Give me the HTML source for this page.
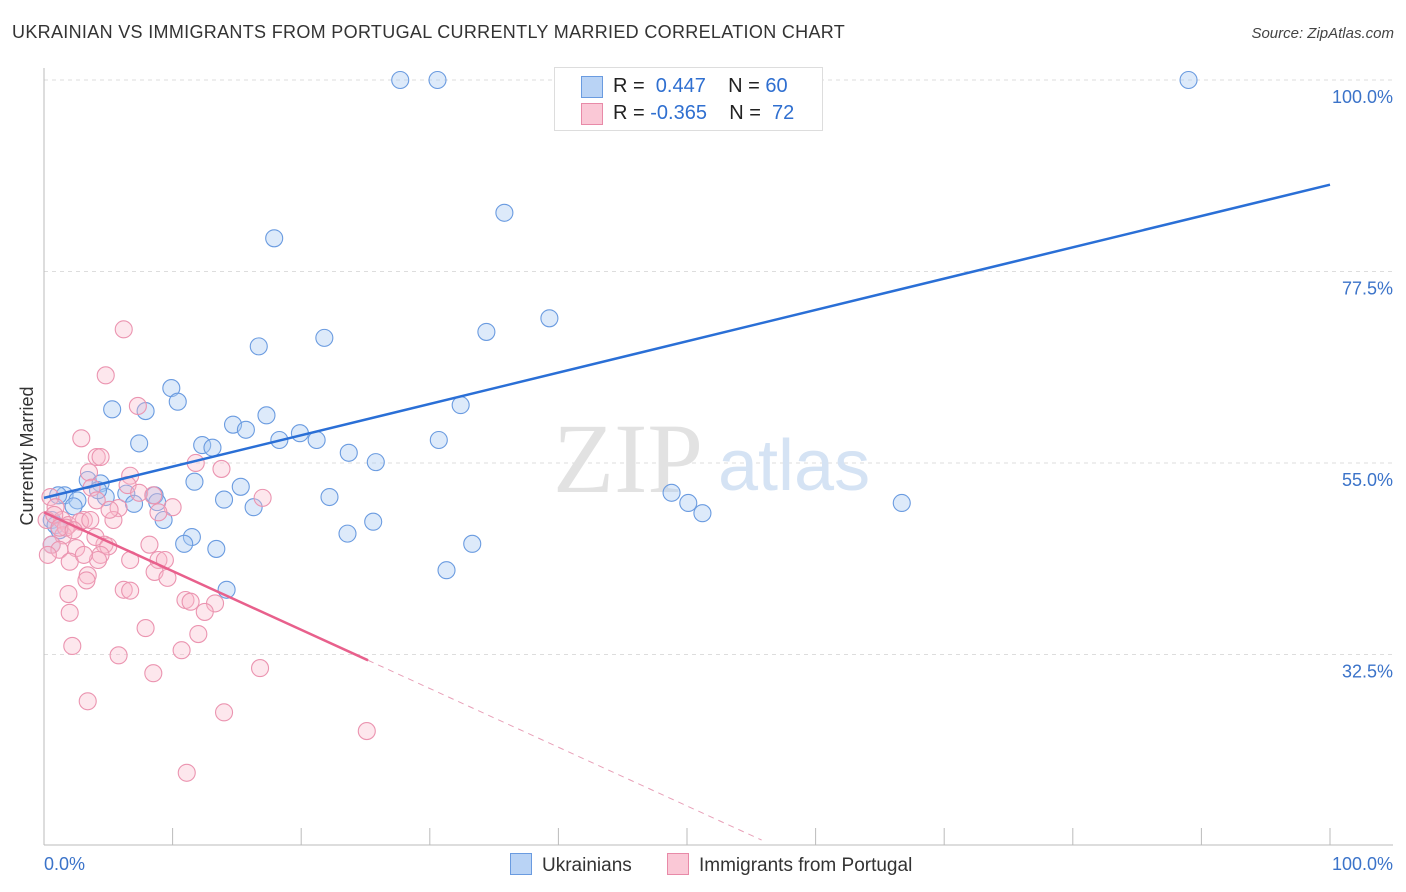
<!DOCTYPE html>
<html><head><meta charset="utf-8">
<style>
body{margin:0;background:#fff;font-family:"Liberation Sans",sans-serif;}
#wrap{position:relative;width:1406px;height:892px;overflow:hidden;}
.t{position:absolute;white-space:nowrap;}
</style></head>
<body>
<div id="wrap">
<div class="t" style="left:12px;top:22px;font-size:18px;letter-spacing:0.32px;color:#333;">UKRAINIAN VS IMMIGRANTS FROM PORTUGAL CURRENTLY MARRIED CORRELATION CHART</div>
<div class="t" style="right:12px;top:25px;font-size:15px;color:#444;font-style:italic;">Source: ZipAtlas.com</div>
<svg id="svg" width="1406" height="892" style="position:absolute;left:0;top:0"></svg>
</div>
<script>
const yTicks=[100,77.5,55,32.5];
const yTickLabels=["100.0%","77.5%","55.0%","32.5%"];
const xTickLabels=["0.0%","100.0%"];
const blueX=[27.7,30.6,89.0,35.8,17.9,16.7,21.8,34.4,39.3,9.9,10.4,5.3,7.9,14.7,15.7,17.3,7.4,12.3,13.1,18.3,19.9,21.2,32.4,30.7,23.7,25.8,11.7,15.3,14.0,16.3,22.2,25.6,23.6,9.3,11.5,10.9,13.4,14.2,33.3,31.3,48.8,50.1,51.2,66.7,3.4,4.4,1.6,1.1,2.6,2.3,4.8,6.4,7.0,8.6,8.8,0.6,0.9,1.2,0.6,4.2];
const blueY=[100,100,100,84.4,81.4,68.7,69.7,70.4,72.0,63.8,62.2,61.3,61.1,59.5,58.9,60.6,57.3,57.1,56.8,57.7,58.5,57.7,61.8,57.7,56.2,55.1,52.8,52.2,50.7,49.8,51.0,48.1,46.7,48.3,46.3,45.5,44.9,40.1,45.5,42.4,51.5,50.3,49.1,50.3,53.0,52.6,51.2,51.2,50.6,49.9,51.0,51.4,50.2,51.2,50.4,48.3,47.7,47.1,45.4,51.8];
const pinkX=[6.2,4.8,7.3,2.9,4.1,4.4,3.5,6.7,11.8,13.8,17.0,6.5,7.4,8.5,10.0,8.9,5.8,5.4,3.7,4.1,0.5,0.9,1.4,1.9,3.1,2.8,1.5,1.7,0.6,1.2,2.5,4.7,4.0,5.0,8.2,4.4,4.2,2.0,8.9,9.4,3.4,3.3,8.6,9.6,6.2,6.7,1.9,2.0,11.0,11.4,13.3,12.5,7.9,12.0,10.7,5.8,2.2,16.8,8.5,3.4,14.0,25.1,11.1,0.3,0.2,0.8,1.2,2.3,3.6,5.1,3.1,6.7];
const pinkY=[70.7,65.3,61.7,57.9,55.7,55.7,53.9,53.5,55.0,54.3,50.9,52.4,51.5,51.2,49.8,49.2,49.7,48.3,52.1,50.6,51.0,49.8,48.3,47.7,48.3,48.1,46.5,47.4,45.4,44.8,45.0,45.4,46.3,45.2,45.4,44.2,43.6,43.4,43.6,43.6,41.8,41.2,42.2,41.5,40.1,40.0,39.6,37.4,38.9,38.7,38.5,37.5,35.6,34.9,33.0,32.4,33.5,30.9,30.3,27.0,25.7,23.5,18.6,44.2,48.3,48.9,47.4,47.1,48.3,49.5,44.2,43.6];
const blueTrend=[50.9,87.7];
const pinkTrend=[49.2,-0.69];
const pinkSolidEnd=25.2;
const pinkDashEnd=55.8;

const X0=44,X1=1330,Y100=80,PPY=1/0.1175;
const sx=v=>X0+(X1-X0)*v/100;
const sy=v=>Y100+(100-v)*PPY;
const svg=document.getElementById('svg');
const NS='http://www.w3.org/2000/svg';
function mk(tag,attrs,parent){const e=document.createElementNS(NS,tag);for(const k in attrs)e.setAttribute(k,attrs[k]);(parent||svg).appendChild(e);return e;}

yTicks.forEach((t,i)=>{
 const g=mk('line',{x1:44,x2:1393,y1:sy(t),y2:sy(t),stroke:'#ddd','stroke-dasharray':'4,4'});
 
 
 const tx=mk('text',{x:1393,y:sy(t)+23,'text-anchor':'end','font-size':18,fill:'#3b73c9','font-family':'Liberation Sans'});
 tx.textContent=yTickLabels[i];
 
 
});
let a=mk('line',{x1:44,x2:44,y1:68,y2:845,stroke:'#bbb'});

a=mk('line',{x1:44,x2:1393,y1:845,y2:845,stroke:'#bbb'});

for(let i=0;i<=10;i++){const tk=mk('line',{x1:sx(i*10),x2:sx(i*10),y1:828,y2:845,stroke:'#bbb'});
 }
[[0,'start',44],[100,'end',1393]].forEach((d,i)=>{const tx=mk('text',{x:d[2],y:870,'text-anchor':d[1],'font-size':18,fill:'#3b73c9','font-family':'Liberation Sans'});tx.textContent=xTickLabels[i];
 });
let w=mk('text',{x:553,y:492,'font-size':100,fill:'#e2e2e2','font-family':'Liberation Serif'});w.textContent='ZIP';

w=mk('text',{x:718,y:490,'font-size':72,fill:'#d5e3f4','font-family':'Liberation Sans'});w.textContent='atlas';

w=mk('text',{x:0,y:0,'font-size':18,fill:'#333','font-family':'Liberation Sans','text-anchor':'middle',transform:'translate(33,456) rotate(-90)'});w.textContent='Currently Married';

blueX.forEach((x,i)=>{const c=mk('circle',{cx:sx(x),cy:sy(blueY[i]),r:8.5,fill:'rgba(170,202,242,0.4)',stroke:'#6a9be0','stroke-width':1.1});
 });
pinkX.forEach((x,i)=>{const c=mk('circle',{cx:sx(x),cy:sy(pinkY[i]),r:8.5,fill:'rgba(248,186,204,0.35)',stroke:'#eb94b0','stroke-width':1.1});
 });
let l=mk('line',{x1:sx(0),y1:sy(blueTrend[0]),x2:sx(100),y2:sy(blueTrend[1]),stroke:'#2a6fd6','stroke-width':2.5});

const py=x=>pinkTrend[0]+pinkTrend[1]*x;
l=mk('line',{x1:sx(0),y1:sy(py(0)),x2:sx(pinkSolidEnd),y2:sy(py(pinkSolidEnd)),stroke:'#e8608c','stroke-width':2.5});

l=mk('line',{x1:sx(pinkSolidEnd),y1:sy(py(pinkSolidEnd)),x2:sx(pinkDashEnd),y2:sy(py(pinkDashEnd)),stroke:'#e8a0b8','stroke-width':1,'stroke-dasharray':'6,5'});

</script>
<div class="t" style="left:554px;top:67px;width:267px;height:62px;border:1px solid #ddd;background:#fff;font-size:20px;color:#222;">
 <div style="position:absolute;left:26px;top:8px;width:20px;height:20px;background:#b9d3f5;border:1px solid #6a9be0;"></div>
 <div style="position:absolute;left:58px;top:7px;">R = &nbsp;<span style="color:#2f6fd0">0.447</span>&nbsp;&nbsp;&nbsp; N = <span style="color:#2f6fd0">60</span></div>
 <div style="position:absolute;left:26px;top:35px;width:20px;height:20px;background:#fac8d6;border:1px solid #e88aa8;"></div>
 <div style="position:absolute;left:58px;top:34px;">R = <span style="color:#2f6fd0">-0.365</span>&nbsp;&nbsp;&nbsp; N = &nbsp;<span style="color:#2f6fd0">72</span></div>
</div>
<div class="t" style="left:510px;top:853px;font-size:19px;color:#333;"><span style="display:inline-block;width:20px;height:20px;background:#b9d3f5;border:1px solid #6a9be0;vertical-align:-4px;margin-right:10px;"></span>Ukrainians</div>
<div class="t" style="left:667px;top:853px;font-size:19px;color:#333;"><span style="display:inline-block;width:20px;height:20px;background:#fac8d6;border:1px solid #e88aa8;vertical-align:-4px;margin-right:10px;"></span>Immigrants from Portugal</div>
</body></html>
